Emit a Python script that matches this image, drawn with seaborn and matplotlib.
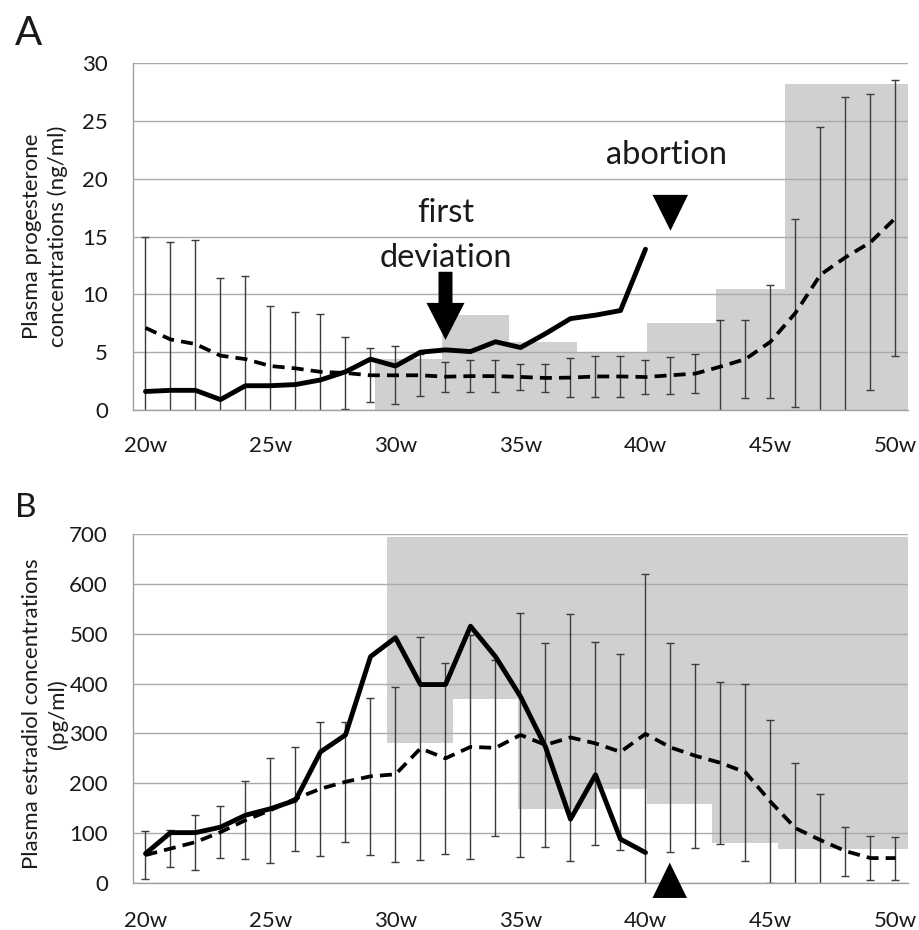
import numpy as np
import pandas as pd
import matplotlib
matplotlib.use("Agg")
import matplotlib.pyplot as plt
import seaborn as sns
from matplotlib.patches import FancyArrow, Polygon

# ---- data -------------------------------------------------------------
weeks = list(range(20, 51))
case_weeks = list(range(20, 41))
week_ticks = [20, 25, 30, 35, 40, 45, 50]
week_tick_labels = ["20w", "25w", "30w", "35w", "40w", "45w", "50w"]

# progesterone (ng/ml)
prog_case = [1.6, 1.7, 1.7, 0.9, 2.1, 2.1, 2.2, 2.6, 3.3, 4.4, 3.8,
             5.0, 5.2, 5.05, 5.9, 5.4, 6.6, 7.9, 8.2, 8.6, 13.9]
prog_mean = [7.1, 6.1, 5.7, 4.7, 4.4, 3.8, 3.6, 3.3, 3.2, 3.0, 3.0,
             3.0, 2.88, 2.93, 2.93, 2.86, 2.77, 2.8, 2.9, 2.9, 2.85,
             3.0, 3.15, 3.75, 4.4, 5.9, 8.4, 11.7, 13.2, 14.5, 16.6]
prog_sd = [7.9, 8.4, 9.0, 6.7, 7.2, 5.2, 4.9, 5.0, 3.1, 2.35, 2.5,
           1.8, 1.3, 1.4, 1.4, 1.15, 1.2, 1.66, 1.76, 1.76, 1.5,
           1.6, 1.7, 4.0, 3.4, 4.9, 8.1, 12.8, 13.9, 12.8, 11.9]
prog_band_edges = [29.2, 31.87, 34.56, 37.27, 40.07, 42.83, 45.6, 50.5]
prog_band_low = [0, 0, 0, 0, 0, 0, 0]
prog_band_high = [4.4, 8.2, 5.9, 5.05, 7.56, 10.5, 28.2]

# estradiol (pg/ml)
estr_case = [59, 101, 101, 112, 136, 149, 166, 263, 297, 454, 492,
             398, 398, 515, 454, 374, 273, 128, 217, 88, 61]
estr_mean = [56, 69, 82, 102, 126, 146, 169, 189, 203, 214, 218,
             270, 250, 273, 271, 297, 277, 292, 280, 263, 299,
             272, 255, 241, 222, 163, 110, 86, 64, 50, 50]
estr_sd = [48, 37, 55, 52, 78, 105, 104, 134, 120, 157, 176,
           224, 192, 224, 177, 245, 205, 248, 204, 196, 320,
           210, 184, 162, 178, 164, 131, 92, 49, 44, 43]
estr_band_edges = [29.67, 32.31, 34.92, 38.08, 40.08, 42.68, 45.32, 50.5]
estr_band_low = [281, 370, 148, 188, 158, 81, 68]
estr_band_high = [693, 693, 693, 693, 693, 693, 693]

deviation_week = 32
abortion_week = 41

# ---- style ------------------------------------------------------------
sns.set_theme(style="white")
plt.rcParams["font.family"] = ["Lato", "DejaVu Sans"]

GRID = "#ababab"
BAND = "#d0d0d0"
EBAR = "#3c3c3c"
INK = "#1a1a1a"

fig = plt.figure(figsize=(9.2, 9.3), dpi=100)
ax_a = fig.add_axes([133 / 920, 1 - 410 / 930, 775 / 920, 347 / 930])
ax_b = fig.add_axes([133 / 920, 1 - 883 / 930, 775 / 920, 349 / 930])


def draw_panel(ax, mean, sd, case, edges, low, high, ymax, ystep, ylabel,
               xpad, label_y):
    lefts = edges[:-1]
    widths = np.diff(edges)
    heights = np.subtract(high, low)
    ax.bar(lefts, heights, width=widths, bottom=low, align="edge",
           color=BAND, linewidth=0, zorder=0.2)

    ax.errorbar(weeks, mean, yerr=sd, fmt="none", ecolor=EBAR,
                elinewidth=1.0, capsize=3, capthick=1.0, zorder=2)

    ref = pd.DataFrame({"week": weeks, "value": mean})
    obs = pd.DataFrame({"week": case_weeks, "value": case})
    sns.lineplot(data=ref, x="week", y="value", ax=ax, color="black",
                 linewidth=2.7, linestyle=(0, (3.2, 1.9)), zorder=3)
    sns.lineplot(data=obs, x="week", y="value", ax=ax, color="black",
                 linewidth=3.5, zorder=4, solid_joinstyle="round")

    ax.set_xlim(19.5, 50.5)
    ax.set_ylim(0, ymax)
    ax.set_yticks(np.arange(0, ymax + 1, ystep))
    ax.set_xticks(week_ticks)
    ax.set_xticklabels(week_tick_labels)
    ax.set_axisbelow(True)
    ax.yaxis.grid(True, color=GRID, linewidth=1.0)
    ax.xaxis.grid(False)
    for side in ("top", "right"):
        ax.spines[side].set_visible(False)
    for side in ("left", "bottom"):
        ax.spines[side].set_color("#a0a0a0")
        ax.spines[side].set_linewidth(1.0)
    ax.tick_params(axis="y", length=0, labelsize=16, pad=18, colors=INK)
    ax.tick_params(axis="x", length=0, labelsize=16, pad=xpad, colors=INK)
    ax.set_xlabel("")
    ax.set_ylabel(ylabel, fontsize=16, linespacing=1.3, color=INK)
    ax.yaxis.set_label_coords(-0.084, label_y)


draw_panel(ax_a, prog_mean, prog_sd, prog_case, prog_band_edges,
           prog_band_low, prog_band_high, 30, 5,
           "Plasma progesterone\nconcentrations (ng/ml)", 19, 0.5)
draw_panel(ax_b, estr_mean, estr_sd, estr_case, estr_band_edges,
           estr_band_low, estr_band_high, 700, 100,
           "Plasma estradiol concentrations\n(pg/ml)", 20.5, 0.485)

# ---- annotations, panel A --------------------------------------------
ax_a.text(deviation_week, 16.28, "first", ha="center", va="baseline",
          fontsize=23.5, color=INK, zorder=6)
ax_a.text(deviation_week, 12.38, "deviation", ha="center", va="baseline",
          fontsize=23.5, color=INK, zorder=6)
ax_a.add_patch(FancyArrow(deviation_week, 11.95, 0, -5.89, width=0.56,
                          head_width=1.52, head_length=3.2,
                          length_includes_head=True, color="black",
                          linewidth=0, zorder=6))
ax_a.text(abortion_week - 0.16, 21.26, "abortion", ha="center",
          va="baseline", fontsize=23.5, color=INK, zorder=6)
ax_a.add_patch(Polygon([(abortion_week - 0.72, 18.6),
                        (abortion_week + 0.7, 18.6),
                        (abortion_week, 15.5)],
                       closed=True, color="black", linewidth=0, zorder=6))

# ---- annotation, panel B ---------------------------------------------
ax_b.add_patch(Polygon([(abortion_week - 0.72, -30),
                        (abortion_week + 0.66, -30),
                        (abortion_week - 0.03, 41)],
                       closed=True, color="black", linewidth=0, zorder=6,
                       clip_on=False))

# panel letters
fig.text(15 / 920, 1 - 45 / 930, "A", fontsize=29, va="baseline",
         ha="left", color=INK)
fig.text(15 / 920, 1 - 517 / 930, "B", fontsize=24, va="baseline",
         ha="left", color=INK)

fig.savefig("out.png", dpi=100)
